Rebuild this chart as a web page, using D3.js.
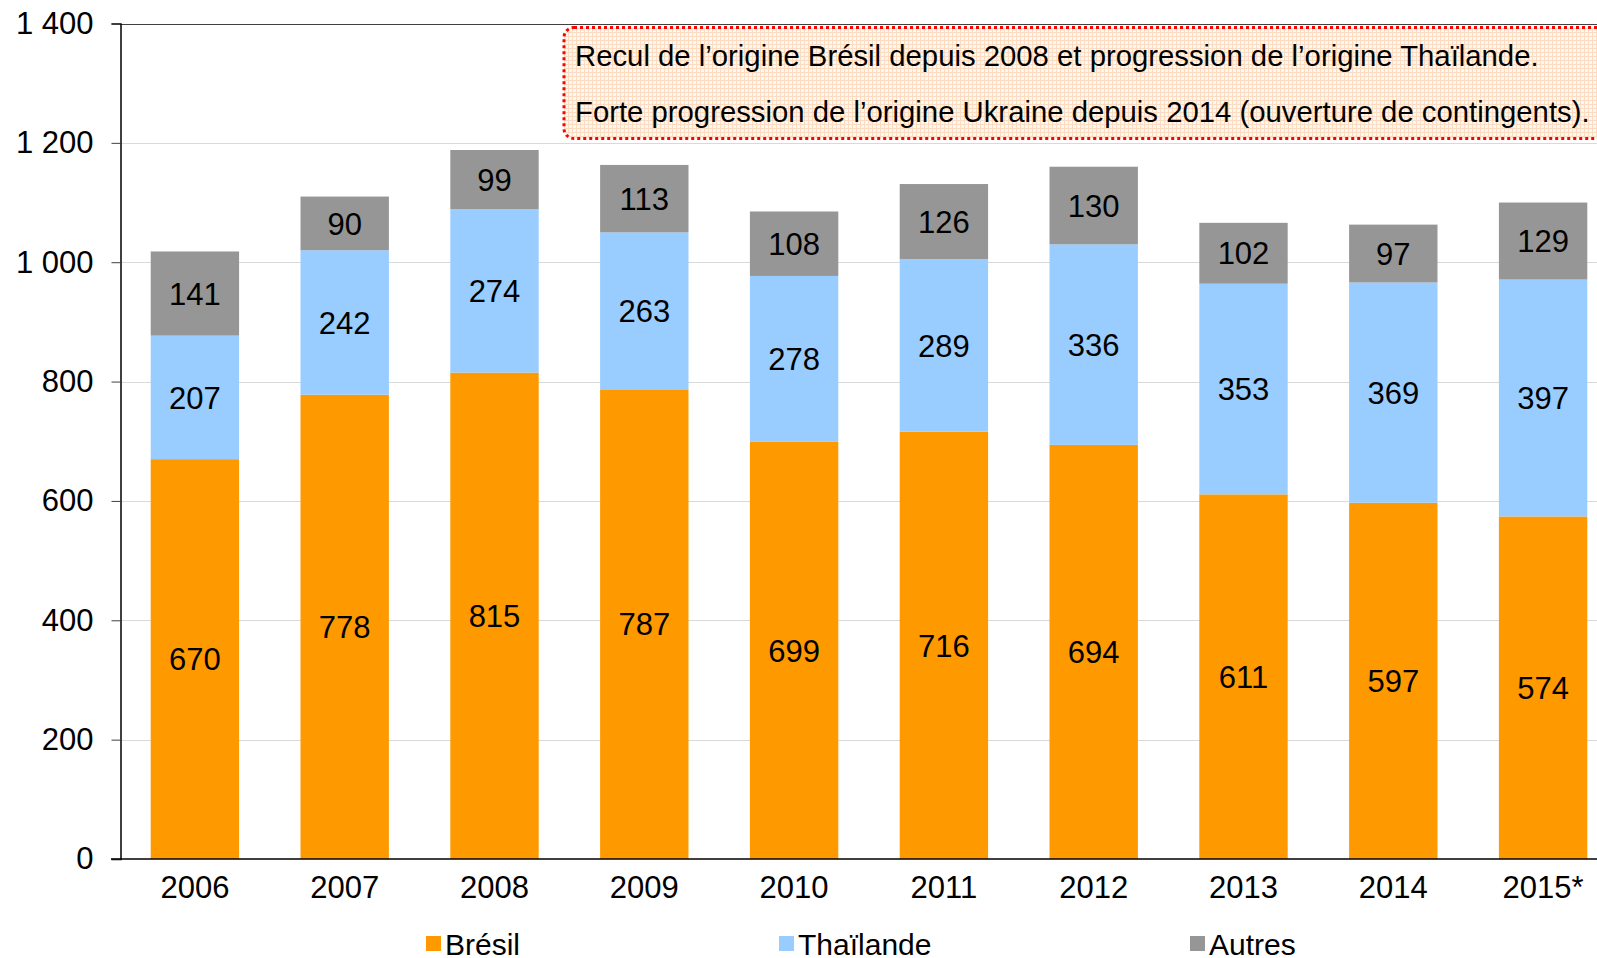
<!DOCTYPE html>
<html>
<head>
<meta charset="utf-8">
<script src="https://cdn.jsdelivr.net/npm/d3@7"></script>
<style>
  body { margin: 0; background: #fff; }
  text { font-family: "Liberation Sans", Arial, sans-serif; fill: #000; }
</style>
</head>
<body>
<svg id="chart" width="1597" height="958"></svg>
<script>
var years = ["2006", "2007", "2008", "2009", "2010", "2011", "2012", "2013", "2014", "2015*"];
var bresil = [670, 778, 815, 787, 699, 716, 694, 611, 597, 574];
var thailande = [207, 242, 274, 263, 278, 289, 336, 353, 369, 397];
var autres = [141, 90, 99, 113, 108, 126, 130, 102, 97, 129];
var seriesNames = ["Brésil", "Thaïlande", "Autres"];
var colors = ["#ff9900", "#99ccff", "#969696"];
var yTicks = [0, 200, 400, 600, 800, 1000, 1200, 1400];
var notes = [
  "Recul de l\u2019origine Brésil depuis 2008 et progression de l\u2019origine Thaïlande.",
  "Forte progression de l\u2019origine Ukraine depuis 2014 (ouverture de contingents)."
];

var plotLeft = 120, plotTop = 23.5, plotBottom = 859;
var step = 149.8;
var numSize = 31;

var svg = d3.select("#chart");

var x = d3.scaleBand()
  .domain(years)
  .range([plotLeft, plotLeft + step * years.length])
  .paddingInner(0.41)
  .paddingOuter(0.205);

var y = d3.scaleLinear().domain([0, 1400]).range([plotBottom, plotTop]);

// gridlines
svg.append("g").selectAll("line")
  .data(yTicks.filter(function (d) { return d > 0; }))
  .enter().append("line")
  .attr("x1", plotLeft).attr("x2", 1597)
  .attr("y1", function (d) { return Math.round(y(d)) + 0.5; })
  .attr("y2", function (d) { return Math.round(y(d)) + 0.5; })
  .attr("stroke", function (d) { return d === 1400 ? "#404040" : "#d9d9d9"; })
  .attr("stroke-width", 1);

// stacked bars
var rows = years.map(function (yr, i) {
  return { year: yr, "Brésil": bresil[i], "Thaïlande": thailande[i], "Autres": autres[i] };
});
var stack = d3.stack().keys(seriesNames)(rows);

var layers = svg.append("g").selectAll("g")
  .data(stack)
  .enter().append("g")
  .attr("fill", function (d, i) { return colors[i]; });

layers.selectAll("rect")
  .data(function (d) { return d; })
  .enter().append("rect")
  .attr("x", function (d) { return x(d.data.year); })
  .attr("width", x.bandwidth())
  .attr("y", function (d) { return y(d[1]); })
  .attr("height", function (d) { return y(d[0]) - y(d[1]); });

layers.selectAll("text")
  .data(function (d) { return d; })
  .enter().append("text")
  .attr("x", function (d) { return x(d.data.year) + x.bandwidth() / 2; })
  .attr("y", function (d) { return (y(d[0]) + y(d[1])) / 2; })
  .attr("dy", "0.36em")
  .attr("text-anchor", "middle")
  .attr("font-size", numSize)
  .style("fill", "#000")
  .text(function (d) { return d[1] - d[0]; });

// y axis
var yAxis = d3.axisLeft(y).tickValues(yTicks).tickSize(9).tickPadding(18)
  .tickFormat(function (d) { return d3.format(",")(d).replace(",", " "); });
var gy = svg.append("g").attr("transform", "translate(" + (plotLeft + 0.5) + ",0)").call(yAxis);
gy.select(".domain").attr("stroke", "#000").attr("stroke-width", 1.5);
gy.selectAll(".tick line").attr("stroke", "#404040");
gy.selectAll("text").attr("font-size", numSize).attr("font-family", "Liberation Sans, Arial, sans-serif");

// x axis
var xAxis = d3.axisBottom(x).tickSize(0).tickPadding(17);
var gx = svg.append("g").attr("transform", "translate(0," + plotBottom + ")").call(xAxis);
gx.select(".domain").attr("stroke", "#000").attr("stroke-width", 1.5)
  .attr("d", "M" + (plotLeft - 9) + ",0H1597");
gx.selectAll("text").attr("font-size", numSize).attr("font-family", "Liberation Sans, Arial, sans-serif");

// annotation box
var defs = svg.append("defs");
var pat = defs.append("pattern").attr("id", "grid").attr("width", 4).attr("height", 4)
  .attr("patternUnits", "userSpaceOnUse");
pat.append("rect").attr("width", 4).attr("height", 4).attr("fill", "#fff6ee");
pat.append("path").attr("d", "M0,0.5H4M0.5,0V4").attr("stroke", "#fbdcc2").attr("stroke-width", 1);

svg.append("rect")
  .attr("x", 564).attr("y", 27.5)
  .attr("width", 1060).attr("height", 111)
  .attr("rx", 10).attr("ry", 10)
  .attr("fill", "url(#grid)")
  .attr("stroke", "#ff0000")
  .attr("stroke-width", 3)
  .attr("stroke-dasharray", "3 3");

svg.append("g").selectAll("text")
  .data(notes)
  .enter().append("text")
  .attr("x", 575)
  .attr("y", function (d, i) { return 55 + i * 56; })
  .attr("dy", "0.36em")
  .attr("font-size", 29.3)
  .text(function (d) { return d; });

// legend
var legendX = [426, 779, 1190];
var legend = svg.append("g").selectAll("g")
  .data(seriesNames)
  .enter().append("g")
  .attr("transform", function (d, i) { return "translate(" + legendX[i] + ",936)"; });
legend.append("rect").attr("width", 15).attr("height", 15)
  .attr("fill", function (d, i) { return colors[i]; });
legend.append("text").attr("x", 19).attr("y", 8).attr("dy", "0.35em")
  .attr("font-size", 30).text(function (d) { return d; });
</script>
</body>
</html>
